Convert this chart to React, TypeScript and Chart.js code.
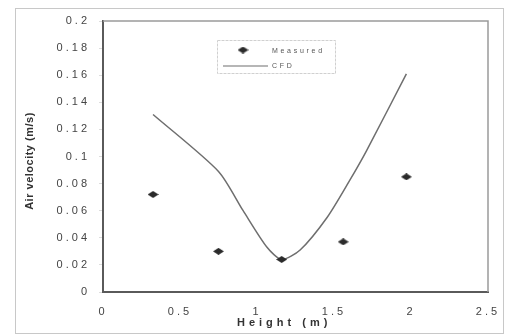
import React, { useEffect, useRef } from "react";
import { Chart, registerables } from "chart.js";

Chart.register(...registerables);

const measuredLabel = "Measured";
const cfdLabel = "CFD";
const xTitle = "Height (m)";
const yTitle = "Air velocity (m/s)";

const measuredX = [0.325, 0.75, 1.16, 1.56, 1.97];
const measuredY = [0.072, 0.030, 0.024, 0.037, 0.085];

const cfdX = [0.325, 0.75, 0.91, 1.065, 1.16, 1.28, 1.455, 1.6, 1.71, 1.97];
const cfdY = [0.131, 0.089, 0.060, 0.033, 0.024, 0.031, 0.055, 0.082, 0.104, 0.161];

const xTicks = [0, 0.5, 1, 1.5, 2, 2.5];
const xTickLabels = ["0", "0.5", "1", "1.5", "2", "2.5"];
const yTicks = [0, 0.02, 0.04, 0.06, 0.08, 0.1, 0.12, 0.14, 0.16, 0.18, 0.2];
const yTickLabels = ["0", "0.02", "0.04", "0.06", "0.08", "0.1", "0.12", "0.14", "0.16", "0.18", "0.2"];

function makeDiamond(): HTMLCanvasElement {
  const c = document.createElement("canvas");
  c.width = 11;
  c.height = 7;
  const g = c.getContext("2d")!;
  g.fillStyle = "#2b2b2b";
  g.beginPath();
  g.moveTo(0, 3.5);
  g.lineTo(5.5, 0);
  g.lineTo(11, 3.5);
  g.lineTo(5.5, 7);
  g.closePath();
  g.fill();
  return c;
}

export default function App() {
  const ref = useRef<HTMLCanvasElement | null>(null);

  useEffect(() => {
    if (!ref.current) return;
    const diamond = makeDiamond();

    const decor = {
      id: "decor",
      beforeDraw(chart: any) {
        const ctx = chart.ctx as CanvasRenderingContext2D;
        ctx.save();
        ctx.fillStyle = "#ffffff";
        ctx.fillRect(0, 0, chart.width, chart.height);
        ctx.strokeStyle = "#c8c8c8";
        ctx.lineWidth = 1;
        ctx.strokeRect(15.5, 8.5, 488, 325);
        ctx.restore();
        (ctx as any).letterSpacing = "3px";
      },
      afterDraw(chart: any) {
        const ctx = chart.ctx as CanvasRenderingContext2D;
        const a = chart.chartArea;
        ctx.save();
        (ctx as any).letterSpacing = "0px";
        ctx.strokeStyle = "#9a9a9a";
        ctx.lineWidth = 1.5;
        ctx.beginPath();
        ctx.moveTo(a.left, a.top);
        ctx.lineTo(a.right, a.top);
        ctx.lineTo(a.right, a.bottom);
        ctx.stroke();

        ctx.fillStyle = "#333";
        ctx.font = "bold 11px Arial, 'Liberation Sans', sans-serif";
        (ctx as any).letterSpacing = "4px";
        ctx.textAlign = "left";
        ctx.textBaseline = "middle";
        ctx.fillText(xTitle, 237, 323);

        (ctx as any).letterSpacing = "0.5px";
        ctx.save();
        ctx.translate(30, 161);
        ctx.rotate(-Math.PI / 2);
        ctx.textAlign = "center";
        ctx.fillText(yTitle, 0, 0);
        ctx.restore();

        ctx.strokeStyle = "#d0d0d0";
        ctx.lineWidth = 1;
        ctx.setLineDash([3, 1]);
        ctx.strokeRect(217.5, 40.5, 118, 33);
        ctx.setLineDash([]);
        const ds = chart.data.datasets;
        ctx.drawImage(diamond, 243 - 5.5, 50 - 3.5);
        ctx.strokeStyle = "#6e6e6e";
        ctx.lineWidth = 1.2;
        ctx.beginPath();
        ctx.moveTo(223, 66);
        ctx.lineTo(268, 66);
        ctx.stroke();
        ctx.fillStyle = "#555";
        ctx.font = "7px Arial, 'Liberation Sans', sans-serif";
        (ctx as any).letterSpacing = "2.7px";
        ctx.textAlign = "left";
        ctx.fillText(ds[0].label, 272, 51);
        ctx.fillText(ds[1].label, 272, 66);
        ctx.restore();
      },
    };

    const tickFont = { family: "Arial, 'Liberation Sans', sans-serif", size: 11 };

    const chart = new Chart(ref.current, {
      type: "scatter",
      data: {
        datasets: [
          {
            label: measuredLabel,
            data: measuredX.map((x, i) => ({ x, y: measuredY[i] })),
            showLine: false,
            pointStyle: diamond as any,
            pointRadius: 5,
            order: 0,
          },
          {
            label: cfdLabel,
            data: cfdX.map((x, i) => ({ x, y: cfdY[i] })),
            showLine: true,
            borderColor: "#6e6e6e",
            borderWidth: 1.5,
            pointRadius: 0,
            tension: 0.25,
            order: 1,
          },
        ],
      },
      options: {
        responsive: false,
        animation: false,
        devicePixelRatio: 1,
        layout: { padding: { top: 21, right: 24, left: 0, bottom: 0 } },
        plugins: { legend: { display: false }, tooltip: { enabled: false } },
        scales: {
          x: {
            type: "linear",
            min: 0,
            max: 2.5,
            afterBuildTicks: (s: any) => {
              s.ticks = xTicks.map((v) => ({ value: v }));
            },
            afterFit: (s: any) => {
              s.height = 43;
            },
            ticks: {
              padding: 5,
              color: "#444",
              font: tickFont,
              maxRotation: 0,
              autoSkip: false,
              callback: (_v: any, i: number) => xTickLabels[i],
            },
            grid: { display: false },
            border: { display: true, color: "#5a5a5a", width: 2 },
          },
          y: {
            type: "linear",
            min: 0,
            max: 0.2,
            afterBuildTicks: (s: any) => {
              s.ticks = yTicks.map((v) => ({ value: v }));
            },
            afterFit: (s: any) => {
              s.width = 103;
            },
            ticks: {
              padding: 9,
              color: "#444",
              font: tickFont,
              autoSkip: false,
              callback: (_v: any, i: number) => yTickLabels[i],
            },
            grid: {
              display: true,
              drawOnChartArea: false,
              drawTicks: true,
              tickLength: 4,
              color: "#dddddd",
            },
            border: { display: true, color: "#5a5a5a", width: 2 },
          },
        },
      },
      plugins: [decor],
    });

    return () => chart.destroy();
  }, []);

  return (
    <div style={{ position: "fixed", left: 0, top: 0, width: 512, height: 335, background: "#fff" }}>
      <canvas ref={ref} width={512} height={335} style={{ display: "block" }} />
    </div>
  );
}
